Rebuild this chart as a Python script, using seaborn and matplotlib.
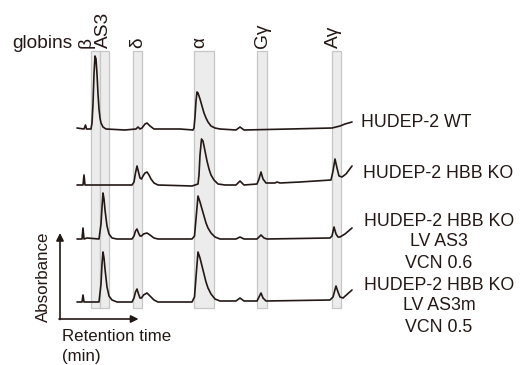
import numpy as np
import pandas as pd
import matplotlib
matplotlib.use("Agg")
import matplotlib.pyplot as plt
import seaborn as sns

# ---------------- data ----------------
samples = ["HUDEP-2 WT", "HUDEP-2 HBB KO",
           "HUDEP-2 HBB KO\nLV AS3\nVCN 0.6",
           "HUDEP-2 HBB KO\nLV AS3m\nVCN 0.5"]

# retention time (a.u.) and absorbance (a.u.) for each chromatogram
wt_time = [0, 1.4, 1.7, 1.9, 2.8, 3.0, 3.2, 3.4, 3.6, 3.8, 4.0, 4.2, 4.4, 4.6, 4.8, 5.2, 5.8,
           9.6, 11.8, 12.2, 12.6, 13.0, 13.6, 14.0, 14.6, 15.4, 20.6, 23.2, 23.4, 23.6, 23.8,
           24.0, 24.2, 24.6, 25.0, 25.4, 25.8, 26.2, 26.8, 27.6, 28.6, 31.8, 32.6, 33.4, 42.6,
           51.0, 52.6, 53.6, 55.0]
wt_abs = [1, 0, 4, 0, 0, 6, 25, 55, 73, 70, 55, 35, 20, 11, 6, 2, 0,
          -1, 0, 2, 0, 1, 5, 6, 3, 0, 0, -1, 1, 12, 28,
          37, 36, 30, 23, 16, 11, 7, 3, 1, 0, -1, 2, -1, 0,
          1, 3, 5, 7]

ko_time = [0, 1.2, 1.4, 1.6, 4.6, 11.0, 11.4, 11.7, 12.0, 12.3, 12.6, 12.9, 13.2, 13.6, 14.0,
           14.4, 14.8, 15.4, 16.2, 23.0, 24.2, 24.4, 24.6, 24.9, 25.2, 25.6, 26.0, 26.4, 26.8,
           27.4, 28.2, 29.6, 31.8, 32.6, 33.4, 36.0, 36.4, 36.8, 37.2, 37.8, 39.6, 40.0, 40.6,
           44.6, 50.8, 51.2, 51.6, 52.0, 52.4, 53.0, 53.8, 55.0]
ko_abs = [0, 0, 10, 0, 0, 0, 3, 12, 19, 13, 7, 6, 9, 12, 13,
          10, 6, 2, 0, -1, 1, 10, 30, 46, 44, 34, 24, 16, 10,
          5, 1, 0, 0, 4, 0, 1, 6, 13, 6, 2, 2, 3, 2,
          3, 5, 14, 26, 17, 9, 8, 11, 19]

as3_time = [0, 1.0, 1.2, 1.4, 2.0, 4.4, 4.8, 5.0, 5.2, 5.4, 5.6, 6.0, 6.4, 7.0, 8.0, 11.0,
            11.4, 11.7, 12.0, 12.3, 12.6, 12.9, 13.3, 14.0, 14.6, 15.4, 16.2, 23.0, 23.5,
            23.8, 24.2, 24.6, 25.0, 25.4, 25.8, 26.2, 26.8, 27.6, 28.6, 31.8, 32.6, 33.4,
            36.0, 36.8, 37.4, 38.0, 50.6, 51.0, 51.4, 51.8, 52.2, 52.6, 53.6, 55.0]
as3_abs = [0, 0, 11, 0, 1, 0, 15, 32, 46, 40, 29, 13, 5, 1, 0, 0,
           3, 8, 10, 6, 3, 3, 5, 6, 4, 1, 0, 0, 3,
           20, 43, 37, 30, 23, 16, 11, 6, 2, 0, 0, 2, 0,
           0, 4, 1, 0, 1, 3, 12, 5, 2, 2, 5, 11]

as3m_time = [0, 1.0, 1.2, 1.4, 4.4, 4.8, 5.0, 5.2, 5.4, 5.6, 6.0, 6.4, 7.0, 8.0, 11.0, 11.4,
             11.7, 12.0, 12.3, 12.6, 12.9, 13.3, 14.0, 14.6, 15.4, 16.2, 23.0, 23.5, 23.8,
             24.2, 24.6, 25.0, 25.4, 25.8, 26.2, 26.8, 27.6, 28.6, 31.8, 32.6, 33.4, 36.0,
             36.8, 37.2, 37.8, 50.6, 51.2, 51.8, 52.2, 52.6, 53.2, 55.0]
as3m_abs = [0, 0, 7, 0, 0, 18, 38, 50, 44, 33, 15, 6, 2, 0, 0, 4,
            10, 13, 8, 4, 4, 7, 9, 6, 2, 0, 0, 5, 25,
            50, 44, 36, 28, 20, 14, 8, 3, 1, 1, 4, 1, 1,
            9, 4, 1, 2, 5, 16, 10, 5, 4, 12]

globins = ["β", "AS3", "δ", "α", "Gγ", "Aγ"]
globin_label_time = [1.9, 5.2, 12.2, 24.6, 37.0, 51.3]
# retention windows (start, end)
windows = [(2.8, 4.6), (4.6, 6.4), (11.2, 13.0), (23.4, 27.4), (36.0, 38.0), (51.0, 52.8)]

# ---------------- styling / layout ----------------
INK = "#231815"
FONT = ["Liberation Sans", "DejaVu Sans"]
sns.set_theme(style="white")
plt.rcParams["font.family"] = FONT

offsets = [236, 180, 126, 63]   # vertical stacking of traces

frames = []
for name, t, a, off in zip(samples, [wt_time, ko_time, as3_time, as3m_time],
                           [wt_abs, ko_abs, as3_abs, as3m_abs], offsets):
    frames.append(pd.DataFrame({"sample": name, "time": t,
                                "signal": np.asarray(a, float) + off}))
df = pd.concat(frames, ignore_index=True)

fig = plt.figure(figsize=(5.2, 3.65), dpi=100)
ax = fig.add_axes([0, 0, 1, 1])
ax.set_xlim(-15.4, 88.6)
ax.set_ylim(0, 365)
ax.axis("off")

# retention windows
for (t0, t1) in windows:
    ax.axvspan(t0, t1, ymin=57 / 365, ymax=314 / 365, facecolor="#ececec",
               edgecolor="#c6c6c6", lw=0.9, zorder=0)

sns.lineplot(data=df, x="time", y="signal", hue="sample", palette=[INK] * 4,
             estimator=None, sort=False, legend=False, linewidth=1.2, ax=ax, zorder=3)

# globin labels
ax.text(-13.0, 317, "globins", ha="left", va="baseline", fontsize=13.8, color=INK)
for lab, t in zip(globins, globin_label_time):
    ax.text(t, 317, lab, rotation=90, ha="center", va="bottom", fontsize=13.8, color=INK)

# sample labels
ax.text(56.8, 242.5, samples[0], ha="left", va="center", fontsize=12.8, color=INK)
ax.text(57.2, 191, samples[1], ha="left", va="center", fontsize=12.8, color=INK)
for block, yc in zip(samples[2:], [123, 59]):
    lines = block.split("\n")
    for i, ln in enumerate(lines):
        ax.text(72.4, yc + 21 * (1 - i), ln, ha="center", va="center",
                fontsize=12.8, color=INK)

# axis arrows
arrow = dict(arrowstyle="-|>", color=INK, lw=1.2, mutation_scale=11, shrinkA=0, shrinkB=0)
ax.annotate("", xy=(-3.4, 132), xytext=(-3.4, 45.5), arrowprops=arrow)
ax.annotate("", xy=(12.3, 46), xytext=(-3.6, 46), arrowprops=arrow)
ax.text(-6.7, 88, "Absorbance", rotation=90, ha="center", va="center",
        fontsize=12.2, color=INK)
ax.text(-3.0, 24, "Retention time", ha="left", va="baseline", fontsize=12.2, color=INK)
ax.text(-3.0, 4, "(min)", ha="left", va="baseline", fontsize=12.2, color=INK)

fig.savefig("out.png", dpi=100, facecolor="white")
